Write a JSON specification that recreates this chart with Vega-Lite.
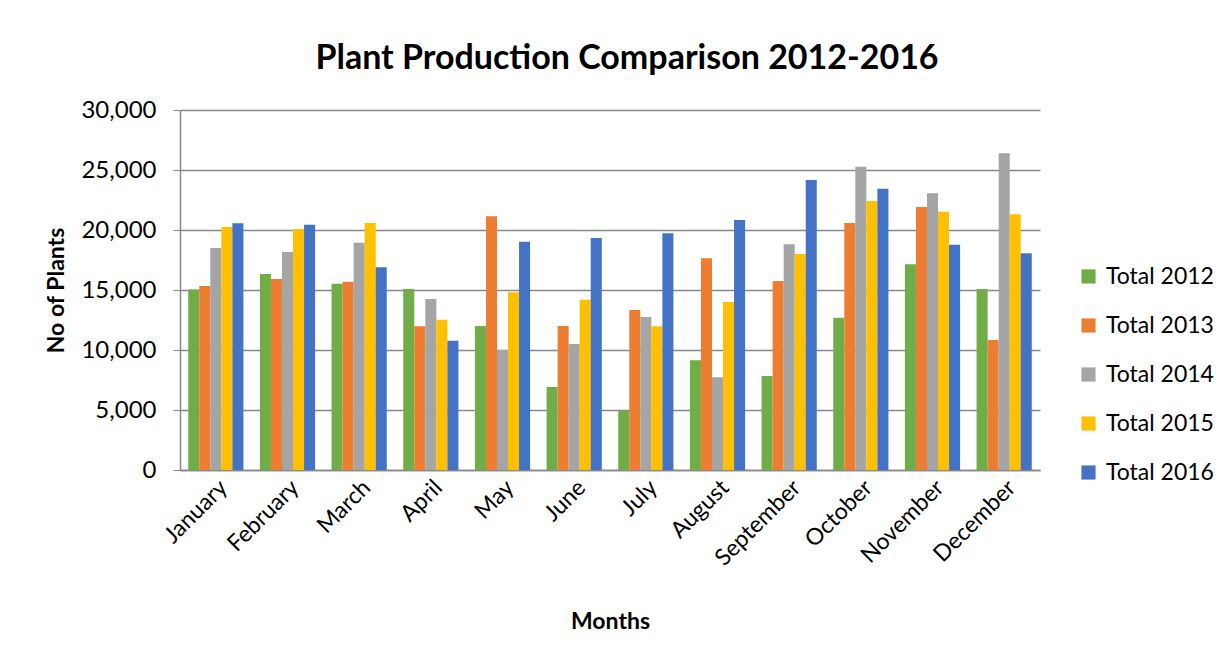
{
  "$schema": "https://vega.github.io/schema/vega-lite/v6.json",
  "autosize": {"type": "none"},
  "width": 860,
  "height": 360,
  "padding": {"left": 180, "top": 110, "right": 192, "bottom": 191},
  "background": "white",
  "title": {
    "text": "Plant Production Comparison 2012-2016",
    "font": "Lato",
    "fontSize": 34,
    "fontWeight": "bold",
    "color": "#000000",
    "anchor": "middle",
    "offset": 22,
    "dx": 17
  },
  "data": {
    "values": [
      {"month": "January", "series": "Total 2012", "value": 15050},
      {"month": "January", "series": "Total 2013", "value": 15330},
      {"month": "January", "series": "Total 2014", "value": 18500},
      {"month": "January", "series": "Total 2015", "value": 20250},
      {"month": "January", "series": "Total 2016", "value": 20560},
      {"month": "February", "series": "Total 2012", "value": 16330},
      {"month": "February", "series": "Total 2013", "value": 15920},
      {"month": "February", "series": "Total 2014", "value": 18170},
      {"month": "February", "series": "Total 2015", "value": 20080},
      {"month": "February", "series": "Total 2016", "value": 20440},
      {"month": "March", "series": "Total 2012", "value": 15530},
      {"month": "March", "series": "Total 2013", "value": 15690},
      {"month": "March", "series": "Total 2014", "value": 18940},
      {"month": "March", "series": "Total 2015", "value": 20580},
      {"month": "March", "series": "Total 2016", "value": 16890},
      {"month": "April", "series": "Total 2012", "value": 15080},
      {"month": "April", "series": "Total 2013", "value": 11970},
      {"month": "April", "series": "Total 2014", "value": 14250},
      {"month": "April", "series": "Total 2015", "value": 12530},
      {"month": "April", "series": "Total 2016", "value": 10780},
      {"month": "May", "series": "Total 2012", "value": 12000},
      {"month": "May", "series": "Total 2013", "value": 21140},
      {"month": "May", "series": "Total 2014", "value": 10000},
      {"month": "May", "series": "Total 2015", "value": 14810},
      {"month": "May", "series": "Total 2016", "value": 19030},
      {"month": "June", "series": "Total 2012", "value": 6920},
      {"month": "June", "series": "Total 2013", "value": 12000},
      {"month": "June", "series": "Total 2014", "value": 10500},
      {"month": "June", "series": "Total 2015", "value": 14190},
      {"month": "June", "series": "Total 2016", "value": 19330},
      {"month": "July", "series": "Total 2012", "value": 4940},
      {"month": "July", "series": "Total 2013", "value": 13330},
      {"month": "July", "series": "Total 2014", "value": 12750},
      {"month": "July", "series": "Total 2015", "value": 11970},
      {"month": "July", "series": "Total 2016", "value": 19720},
      {"month": "August", "series": "Total 2012", "value": 9140},
      {"month": "August", "series": "Total 2013", "value": 17640},
      {"month": "August", "series": "Total 2014", "value": 7720},
      {"month": "August", "series": "Total 2015", "value": 14000},
      {"month": "August", "series": "Total 2016", "value": 20830},
      {"month": "September", "series": "Total 2012", "value": 7830},
      {"month": "September", "series": "Total 2013", "value": 15750},
      {"month": "September", "series": "Total 2014", "value": 18810},
      {"month": "September", "series": "Total 2015", "value": 18000},
      {"month": "September", "series": "Total 2016", "value": 24170},
      {"month": "October", "series": "Total 2012", "value": 12690},
      {"month": "October", "series": "Total 2013", "value": 20580},
      {"month": "October", "series": "Total 2014", "value": 25280},
      {"month": "October", "series": "Total 2015", "value": 22420},
      {"month": "October", "series": "Total 2016", "value": 23440},
      {"month": "November", "series": "Total 2012", "value": 17140},
      {"month": "November", "series": "Total 2013", "value": 21920},
      {"month": "November", "series": "Total 2014", "value": 23060},
      {"month": "November", "series": "Total 2015", "value": 21530},
      {"month": "November", "series": "Total 2016", "value": 18780},
      {"month": "December", "series": "Total 2012", "value": 15080},
      {"month": "December", "series": "Total 2013", "value": 10830},
      {"month": "December", "series": "Total 2014", "value": 26390},
      {"month": "December", "series": "Total 2015", "value": 21310},
      {"month": "December", "series": "Total 2016", "value": 18060}
    ]
  },
  "mark": {"type": "bar"},
  "encoding": {
    "x": {
      "field": "month",
      "type": "nominal",
      "sort": ["January","February","March","April","May","June","July","August","September","October","November","December"],
      "scale": {"paddingInner": 0.23, "paddingOuter": 0.115},
      "axis": {
        "title": "Months",
        "labelAngle": -45,
        "labelFontSize": 23,
        "labelFont": "Lato",
        "labelColor": "#000000",
        "labelPadding": 6,
        "ticks": false,
        "domainColor": "#888888",
        "domainWidth": 1.5,
        "titleFont": "Lato",
        "titleFontSize": 23,
        "titleFontWeight": "bold",
        "titleColor": "#000000",
        "titlePadding": 40
      }
    },
    "xOffset": {"field": "series", "type": "nominal", "scale": {"paddingInner": 0, "paddingOuter": 0}},
    "y": {
      "field": "value",
      "type": "quantitative",
      "scale": {"domain": [0, 30000], "nice": false},
      "axis": {
        "title": "No of Plants",
        "values": [0, 5000, 10000, 15000, 20000, 25000, 30000],
        "format": ",.0f",
        "labelFontSize": 24,
        "labelFont": "Lato",
        "labelColor": "#000000",
        "labelPadding": 17,
        "tickSize": 7,
        "tickColor": "#888888",
        "domainColor": "#888888",
        "domainWidth": 1.5,
        "gridColor": "#888888",
        "gridWidth": 1.5,
        "titleFont": "Lato",
        "titleFontSize": 23,
        "titleFontWeight": "bold",
        "titleColor": "#000000",
        "titlePadding": 12
      }
    },
    "color": {
      "field": "series",
      "type": "nominal",
      "scale": {
        "domain": ["Total 2012","Total 2013","Total 2014","Total 2015","Total 2016"],
        "range": ["#70AD47","#ED7D31","#A5A5A5","#FFC000","#4472C4"]
      },
      "legend": {
        "title": null,
        "orient": "none",
        "legendX": 897,
        "legendY": 155,
        "symbolType": "square",
        "symbolSize": 200,
        "symbolStrokeWidth": 0,
        "labelFont": "Lato",
        "labelFontSize": 23,
        "labelColor": "#000000",
        "labelOffset": 6,
        "rowPadding": 25
      }
    }
  },
  "config": {
    "view": {"stroke": null},
    "axis": {"gridOpacity": 1}
  }
}
